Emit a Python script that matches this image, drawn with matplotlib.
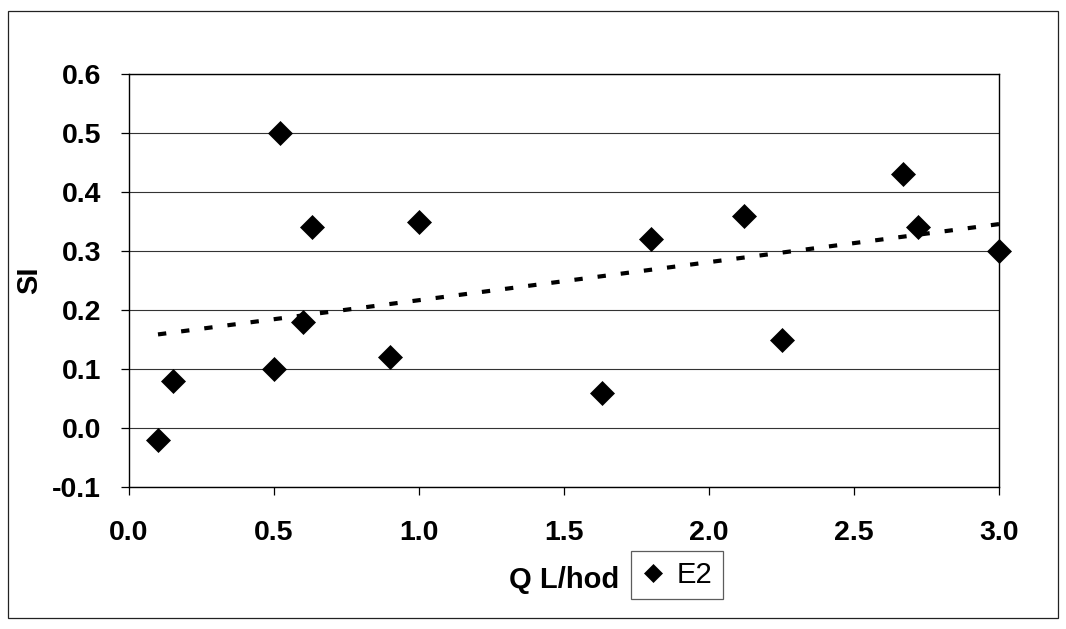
import numpy as np
import matplotlib
matplotlib.use("Agg")
import matplotlib.pyplot as plt
from matplotlib.patches import Rectangle

# Flow rate Q [L/hod] and saturation index SI, series E2
q_flow = [0.10, 0.15, 0.50, 0.52, 0.60, 0.63, 0.90, 1.00, 1.63, 1.80, 2.12, 2.25, 2.67, 2.72, 3.00]
si_e2 = [-0.02, 0.08, 0.10, 0.50, 0.18, 0.34, 0.12, 0.35, 0.06, 0.32, 0.36, 0.15, 0.43, 0.34, 0.30]
series_name = "E2"
x_ticks = [0.0, 0.5, 1.0, 1.5, 2.0, 2.5, 3.0]
y_ticks = [-0.1, 0.0, 0.1, 0.2, 0.3, 0.4, 0.5, 0.6]

plt.rcParams["font.family"] = ["Liberation Sans", "DejaVu Sans"]

fig = plt.figure(figsize=(10.66, 6.29), dpi=100)
ax = fig.add_axes([129 / 1066, 1 - 487 / 629, 870 / 1066, 413 / 629])

# outer chart frame
fig.patches.append(Rectangle((8 / 1066, 11 / 629), 1050 / 1066, 607 / 629,
                             transform=fig.transFigure, fill=False,
                             edgecolor="#222222", linewidth=0.9))

ax.set_xlim(0.0, 3.0)
ax.set_ylim(-0.1, 0.6)
ax.set_xticks(x_ticks)
ax.set_yticks(y_ticks)
ax.set_xticklabels([f"{v:.1f}" for v in x_ticks], fontweight="bold")
ax.set_yticklabels([f"{v:.1f}" for v in y_ticks], fontweight="bold")

ax.yaxis.grid(True, color="#333333", linewidth=0.8)
ax.set_axisbelow(True)
for sp in ax.spines.values():
    sp.set_color("black")
    sp.set_linewidth(1.0)

ax.tick_params(axis="both", direction="out", length=6, width=0.9, labelsize=20.5, colors="black")
ax.tick_params(axis="x", pad=18)
ax.tick_params(axis="y", pad=14)

# linear trend line
coef = np.polyfit(q_flow, si_e2, 1)
xt = np.linspace(min(q_flow), max(q_flow), 50)
ax.plot(xt, np.polyval(coef, xt), color="black", linewidth=3.0,
        linestyle=(0, (2.0, 3.6)), dash_capstyle="butt", zorder=2)

ax.plot(q_flow, si_e2, linestyle="none", marker="D", markersize=12,
        markerfacecolor="black", markeredgecolor="black", markeredgewidth=0.5,
        clip_on=False, zorder=3, label=series_name)

ax.set_xlabel("Q L/hod", fontsize=21, fontweight="bold", labelpad=14)
ax.set_ylabel("SI", fontsize=21, fontweight="bold")
ax.yaxis.set_label_coords(-0.099, 0.5)

leg = ax.legend(loc="center", bbox_to_anchor=(677 / 1066, 1 - 575 / 629),
                bbox_transform=fig.transFigure, fontsize=21, frameon=True,
                fancybox=False, markerscale=0.8, handlelength=0.8,
                handletextpad=0.4, borderpad=0.35, borderaxespad=0)
leg.get_frame().set_edgecolor("#333333")
leg.get_frame().set_linewidth(0.9)

fig.savefig("out.png", dpi=100, facecolor="white")
